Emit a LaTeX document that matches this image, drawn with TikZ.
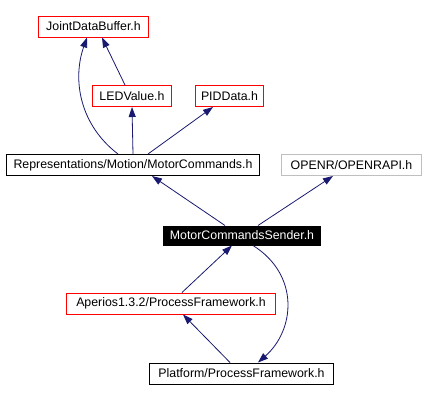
\documentclass[tikz,border=0pt]{standalone}
\usepackage{fontspec}
\setmainfont{Liberation Sans}
\usetikzlibrary{arrows.meta}
\definecolor{edgeblue}{HTML}{191970}
\definecolor{extgray}{HTML}{BFBFBF}
\begin{document}
\begin{tikzpicture} [x=1bp, y=-1bp,
    file/.style={draw, line width=1bp, inner sep=0pt, minimum height=21bp,
      font=\fontsize{12.4}{14}\selectfont},
    dep/.style={file, draw=red},
    own/.style={file, draw=black},
    ext/.style={file, draw=extgray},
    cur/.style={file, draw=black, fill=black, text=white},
    inc/.style={draw=edgeblue, line width=0.8bp,
      -{Triangle[length=10bp, width=7bp]}}]
    \useasboundingbox (0, 0) rectangle (425, 401);
    \node[dep, minimum width=109bp] (jdb) at (93.5, 26.5) {JointDataBuffer.h};
    \node[dep, minimum width=78bp] (led) at (132, 96) {LEDValue.h};
    \node[dep, minimum width=67bp] (pid) at (229.5, 96) {PIDData.h};
    \node[own, minimum width=252bp] (mc) at (133, 165) {Representations/Motion/MotorCommands.h};
    \node[ext, minimum width=139bp] (openr) at (351.5, 165) {OPENR/OPENRAPI.h};
    \node[cur, minimum width=156bp, minimum height=19bp] (mcs) at (242, 235.5) {MotorCommandsSender.h};
    \node[dep, minimum width=208bp] (aper) at (171, 303.5) {Aperios1.3.2/ProcessFramework.h};
    \node[own, minimum width=183bp] (plat) at (241.5, 373.5) {Platform/ProcessFramework.h};
    \draw[inc] ([xshift=-15bp]mc.north) .. controls (80, 125) and (72, 80) .. ([xshift=-6.5bp]jdb.south);
    \draw[inc] ([xshift=-7bp]led.north) -- ([xshift=8.5bp]jdb.south);
    \draw[inc] (mc.north) -- (led.south);
    \draw[inc] ([xshift=15bp]mc.north) -- ([xshift=-16.5bp]pid.south);
    \draw[inc] ([xshift=-17bp]mcs.north) -- ([xshift=19bp]mc.south);
    \draw[inc] ([xshift=16bp]mcs.north) -- ([xshift=-18.5bp]openr.south);
    \draw[inc] ([xshift=11bp]aper.north) -- ([xshift=-10bp]mcs.south);
    \draw[inc] ([xshift=-11.5bp]plat.north) -- ([xshift=12bp]aper.south);
    \draw[inc] ([xshift=11bp]mcs.south) .. controls (300, 275) and (295, 330) .. ([xshift=16.5bp]plat.north);
    \end{tikzpicture}
\end{document}
